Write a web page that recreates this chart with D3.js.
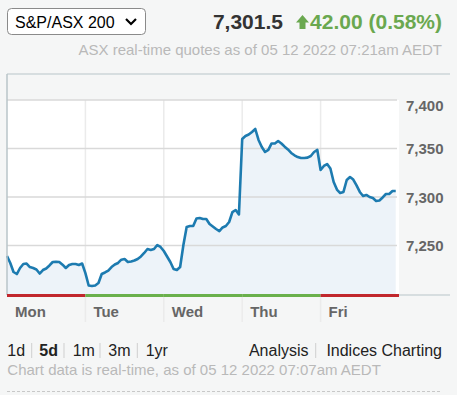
<!DOCTYPE html>
<html>
<head>
<meta charset="utf-8">
<script src="https://cdn.jsdelivr.net/npm/d3@7/dist/d3.min.js"></script>
<style>
	body { margin: 0; background: #f5f6f6; font-family: "Liberation Sans", Arial, sans-serif; }
	svg { display: block; }
</style>
</head>
<body>
<svg id="chart"></svg>
<script>
// values, 24 samples per trading day
var days = ["Mon", "Tue", "Wed", "Thu", "Fri"];
var dayDirection = ["down", "up", "up", "up", "down"];
var mon = [7239.2, 7232.0, 7222.7, 7220.6, 7226.8, 7230.9, 7231.4, 7227.8, 7226.8, 7225.3, 7221.1, 7224.7,
	7226.3, 7229.4, 7233.0, 7233.3, 7233.0, 7230.2, 7226.8, 7229.9, 7230.9, 7230.9, 7229.9, 7231.4];
var tue = [7221.6, 7208.8, 7208.2, 7208.8, 7211.3, 7220.6, 7222.2, 7224.2, 7227.8, 7230.4, 7232.0, 7235.4,
	7236.1, 7233.0, 7233.5, 7234.5, 7236.1, 7238.7, 7242.3, 7246.4, 7245.4, 7246.4, 7250.5, 7248.5];
var wed = [7244.3, 7238.7, 7233.0, 7225.8, 7224.7, 7227.8, 7250.5, 7269.1, 7270.1, 7270.1, 7277.8, 7278.4,
	7277.3, 7277.3, 7272.2, 7269.6, 7267.0, 7264.9, 7268.6, 7270.1, 7274.2, 7284.5, 7286.6, 7282.0];
var thu = [7359.8, 7362.9, 7364.4, 7367.0, 7370.1, 7358.8, 7351.5, 7346.4, 7348.5, 7355.2, 7355.2, 7357.7,
	7355.2, 7351.9, 7349.0, 7345.4, 7343.0, 7341.2, 7340.2, 7340.2, 7340.6, 7342.3, 7346.4, 7348.5];
var fri = [7327.8, 7332.0, 7334.0, 7329.4, 7315.5, 7307.7, 7304.1, 7305.2, 7317.5, 7320.6, 7318.0, 7311.9,
	7305.2, 7301.0, 7302.1, 7300.0, 7299.0, 7295.9, 7296.4, 7299.5, 7303.1, 7303.1, 7306.2, 7306.2];
var yTicks = [7250, 7300, 7350, 7400];
var ranges = ["1d", "5d", "1m", "3m", "1yr"];
var links = ["Analysis", "Indices Charting"];

var indexName = "S&P/ASX 200";
var lastPrice = "7,301.5";
var change = "42.00 (0.58%)";
var quoteTime = "ASX real-time quotes as of 05 12 2022 07:21am AEDT";
var chartTime = "Chart data is real-time, as of 05 12 2022 07:07am AEDT";

var perDay = 24;
var data = [];
[mon, tue, wed, thu, fri].forEach(function(arr, d) {
	arr.forEach(function(v, i) {
		data.push({t: d + i / perDay, v: v});
	});
});

var svgWidth = 457, svgHeight = 395;
var plotLeft = 7, plotRight = 399, plotTop = 100, plotBottom = 294;

var svg = d3.select('#chart')
	.attr("width", svgWidth)
	.attr("height", svgHeight);

var x = d3.scaleLinear().domain([0, 5]).range([plotLeft, plotRight]);
var y = d3.scaleLinear().domain([7200, 7400]).range([plotBottom, plotTop]);

// plot background
svg.append("rect")
	.attr("x", plotLeft).attr("y", plotTop)
	.attr("width", plotRight - plotLeft).attr("height", plotBottom - plotTop)
	.attr("fill", "#ffffff");

// vertical day lines
svg.selectAll(".vgrid")
	.data(d3.range(1, days.length))
	.enter()
	.append("line")
	.attr("x1", function(d) { return x(d); })
	.attr("x2", function(d) { return x(d); })
	.attr("y1", plotTop).attr("y2", 322)
	.attr("stroke", "#ebebeb")
	.attr("stroke-width", 1.5);

// area and line
var area = d3.area()
	.x(function(d) { return x(d.t); })
	.y0(y(7200))
	.y1(function(d) { return y(d.v); });

svg.append("path")
	.datum(data)
	.attr("d", area)
	.attr("fill", "#edf3f9");

// horizontal grid
svg.selectAll(".hgrid")
	.data(yTicks)
	.enter()
	.append("line")
	.attr("x1", plotLeft).attr("x2", plotRight - 2)
	.attr("y1", function(d) { return y(d); })
	.attr("y2", function(d) { return y(d); })
	.attr("stroke", "#d9d9d9")
	.attr("stroke-width", 1.5);

var line = d3.line()
	.x(function(d) { return x(d.t); })
	.y(function(d) { return y(d.v); });

svg.append("path")
	.datum(data)
	.attr("d", line)
	.attr("fill", "none")
	.attr("stroke", "#1d7bb0")
	.attr("stroke-width", 2.6)
	.attr("stroke-linejoin", "round");

// frame
svg.append("line")
	.attr("x1", plotLeft).attr("x2", 450)
	.attr("y1", 74).attr("y2", 74)
	.attr("stroke", "#b8c5c9");
svg.append("line")
	.attr("x1", plotLeft).attr("x2", plotLeft)
	.attr("y1", 74).attr("y2", plotBottom + 1)
	.attr("stroke", "#b8c5c9")
	.attr("stroke-width", 1.5);
svg.append("line")
	.attr("x1", plotRight).attr("x2", 450)
	.attr("y1", plotBottom + 1).attr("y2", plotBottom + 1)
	.attr("stroke", "#b8c5c9");

// coloured strip under each day
svg.selectAll(".strip")
	.data(days)
	.enter()
	.append("rect")
	.attr("x", function(d, i) { return x(i); })
	.attr("y", plotBottom)
	.attr("width", function(d, i) { return x(i + 1) - x(i); })
	.attr("height", 3)
	.attr("fill", function(d, i) { return dayDirection[i] == "up" ? "#6ab04c" : "#c1272d"; });

// day labels
svg.selectAll(".day")
	.data(days)
	.enter()
	.append("text")
	.text(function(d) { return d; })
	.attr("x", function(d, i) { return x(i) + 8; })
	.attr("y", 317)
	.attr("font-size", "15px")
	.attr("font-weight", "bold")
	.attr("fill", "#666");

// y labels
svg.selectAll(".ylab")
	.data(yTicks)
	.enter()
	.append("text")
	.text(function(d) { return d3.format(",")(d); })
	.attr("x", 406)
	.attr("y", function(d) { return Math.max(y(d), 105) + 5.5; })
	.attr("font-size", "15px")
	.attr("font-weight", "bold")
	.attr("fill", "#666");

// header
svg.append("rect")
	.attr("x", 7.5).attr("y", 8.5)
	.attr("width", 138).attr("height", 26)
	.attr("rx", 4)
	.attr("fill", "#fff")
	.attr("stroke", "#8a8a8a");
svg.append("text")
	.text(indexName)
	.attr("x", 15).attr("y", 28)
	.attr("font-size", "16px")
	.attr("fill", "#000");
svg.append("polyline")
	.attr("points", "126,19 131,24 136,19")
	.attr("fill", "none")
	.attr("stroke", "#000")
	.attr("stroke-width", 2.2);

svg.append("text")
	.text(lastPrice)
	.attr("x", 283).attr("y", 29)
	.attr("text-anchor", "end")
	.attr("font-size", "21px")
	.attr("font-weight", "bold")
	.attr("fill", "#333");
svg.append("path")
	.attr("d", "M296,22.5 L302.5,15 L309,22.5 L305.5,22.5 L305.5,29 L299.5,29 L299.5,22.5 Z")
	.attr("fill", "#6aa84f");
svg.append("text")
	.text(change)
	.attr("x", 442).attr("y", 29)
	.attr("text-anchor", "end")
	.attr("font-size", "21px")
	.attr("font-weight", "bold")
	.attr("fill", "#6aa84f");
svg.append("text")
	.text(quoteTime)
	.attr("x", 442).attr("y", 55)
	.attr("text-anchor", "end")
	.attr("font-size", "15px")
	.attr("fill", "#b9b9b9");

// footer: range links
var rangeX = [7.3, 39.3, 72.7, 108.3, 145.7];
var sepX = [31.7, 64, 100, 137.3];
svg.selectAll(".range")
	.data(ranges)
	.enter()
	.append("text")
	.text(function(d) { return d; })
	.attr("x", function(d, i) { return rangeX[i]; })
	.attr("y", 356)
	.attr("font-size", "16px")
	.attr("font-weight", function(d) { return d == "5d" ? "bold" : "normal"; })
	.attr("fill", "#222");
svg.selectAll(".sep")
	.data(sepX.concat([315.7]))
	.enter()
	.append("line")
	.attr("x1", function(d) { return d; })
	.attr("x2", function(d) { return d; })
	.attr("y1", 343).attr("y2", 358)
	.attr("stroke", "#cfcfcf");
svg.append("text")
	.text(links[0])
	.attr("x", 308.5).attr("y", 356)
	.attr("text-anchor", "end")
	.attr("font-size", "16px")
	.attr("fill", "#222");
svg.append("text")
	.text(links[1])
	.attr("x", 442).attr("y", 356)
	.attr("text-anchor", "end")
	.attr("font-size", "16px")
	.attr("fill", "#222");
svg.append("text")
	.text(chartTime)
	.attr("x", 7.3).attr("y", 375)
	.attr("font-size", "15px")
	.attr("fill", "#b9b9b9");
svg.append("line")
	.attr("x1", 7).attr("x2", 442)
	.attr("y1", 391.5).attr("y2", 391.5)
	.attr("stroke", "#c8c8c8")
	.attr("stroke-dasharray", "3,2");
</script>
</body>
</html>
